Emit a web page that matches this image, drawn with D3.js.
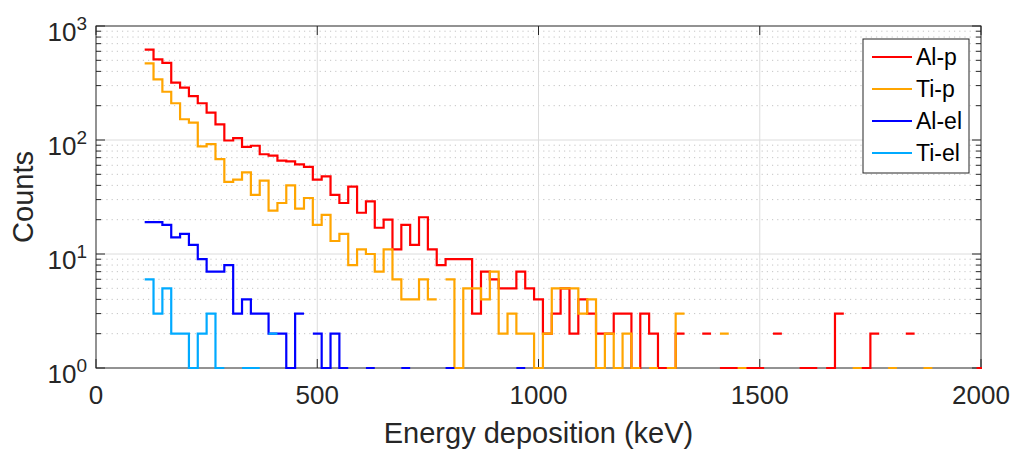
<!DOCTYPE html>
<html>
<head>
<meta charset="utf-8">
<script src="https://cdn.jsdelivr.net/npm/d3@7"></script>
<style>
  html, body { margin: 0; padding: 0; background: #ffffff; }
  svg { display: block; font-family: "Liberation Sans", Arial, Helvetica, sans-serif; }
</style>
</head>
<body>
<svg id="chart" width="1018" height="450"></svg>
<script>
// Histogram bins: left edge of first bin and bin width (keV)
const binStart = 110;
const binWidth = 20;

// Counts per bin (0 = empty bin, leaves a gap on the log axis)
const alP = [620, 510, 475, 318, 288, 243, 210, 174, 137, 99,
             104, 87, 89, 75, 73, 66, 65, 61, 58, 45,
             48, 33, 28, 39, 23, 29, 17, 20, 11, 18,
             12, 21, 11, 8, 9, 9, 9, 3, 7, 6,
             5, 5, 7, 5, 4, 2, 3, 5, 2, 4,
             3, 2, 2, 3, 3, 1, 3, 2, 1, 1,
             2, 0, 0, 2, 0, 1, 1, 1, 1, 1,
             0, 2, 0, 0, 1, 1, 0, 1, 3, 0,
             0, 1, 2, 0, 0, 0, 2, 0, 0, 0,
             0, 0, 0, 0, 1];
const tiP = [470, 340, 265, 210, 152, 142, 88, 92, 68, 43,
             45, 52, 33, 44, 24, 28, 40, 25, 31, 18,
             22, 13, 15, 8, 11, 10, 7, 11, 6, 4,
             4, 6, 4, 0, 6, 1, 5, 5, 4, 7,
             2, 3, 2, 2, 1, 2, 5, 5, 5, 3,
             4, 1, 2, 1, 2, 1, 0, 1, 0, 1,
             3, 0, 0, 0, 0, 2, 0, 1, 0, 0,
             0, 0, 0, 0, 0, 0, 0, 0, 0, 0,
             1, 0, 0, 0, 1, 0, 0, 0, 1];
const alEl = [19, 19, 18, 14, 15, 12, 9, 7, 7, 8,
              3, 4, 3, 3, 2, 2, 1, 3, 0, 2,
              1, 2, 1, 0, 0, 1, 0, 0, 0, 1,
              0, 0, 0, 0, 1, 0, 0, 0, 0, 0,
              0, 0, 1];
const tiEl = [6, 3, 5, 2, 2, 1, 2, 3, 1, 0,
              0, 1, 1, 0, 2];

const seriesNames = ["Al-p", "Ti-p", "Al-el", "Ti-el"];
const seriesColors = ["#ff0000", "#ffa500", "#0000ff", "#00aaff"];
const seriesData = [alP, tiP, alEl, tiEl];

const xTicks = [0, 500, 1000, 1500, 2000];
const yTickExponents = [0, 1, 2, 3];
const xLabel = "Energy deposition (keV)";
const yLabel = "Counts";

// Layout
const W = 1018, H = 450;
const margin = { left: 96, right: 37, top: 26, bottom: 82 };
const plotW = W - margin.left - margin.right;
const plotH = H - margin.top - margin.bottom;
const axisColor = "#262626";
const tickFont = 26;
const labelFont = 29;
const legendFont = 23;

const svg = d3.select("#chart");

const x = d3.scaleLinear().domain([0, 2000]).range([margin.left, margin.left + plotW]);
const y = d3.scaleLog().domain([1, 1000]).range([margin.top + plotH, margin.top]);

const x0 = margin.left, x1 = margin.left + plotW;
const y0 = margin.top + plotH, y1 = margin.top;

// Minor horizontal grid (dotted)
const minorVals = [];
yTickExponents.slice(0, -1).forEach(e => {
  for (let m = 2; m <= 9; m++) minorVals.push(m * Math.pow(10, e));
});
svg.append("g").selectAll("line").data(minorVals).join("line")
  .attr("x1", x0).attr("x2", x1)
  .attr("y1", d => y(d)).attr("y2", d => y(d))
  .attr("stroke", "#c4c4c4").attr("stroke-width", 1)
  .attr("stroke-dasharray", "1.2,4");

// Major grid
const majorY = yTickExponents.map(e => Math.pow(10, e)).filter(v => v > 1 && v < 1000);
svg.append("g").selectAll("line").data(majorY).join("line")
  .attr("x1", x0).attr("x2", x1)
  .attr("y1", d => y(d)).attr("y2", d => y(d))
  .attr("stroke", "#dcdcdc").attr("stroke-width", 1);
svg.append("g").selectAll("line").data(xTicks.filter(v => v > 0 && v < 2000)).join("line")
  .attr("y1", y0).attr("y2", y1)
  .attr("x1", d => x(d)).attr("x2", d => x(d))
  .attr("stroke", "#dcdcdc").attr("stroke-width", 1);

// Axes box and ticks
const axesG = svg.append("g").attr("stroke", axisColor).attr("fill", "none");
axesG.append("rect").attr("x", x0).attr("y", y1).attr("width", plotW).attr("height", plotH)
  .attr("stroke-width", 1);
const majorLen = 9, minorLen = 5;
xTicks.forEach(v => {
  axesG.append("line").attr("x1", x(v)).attr("x2", x(v)).attr("y1", y0).attr("y2", y0 - majorLen);
  axesG.append("line").attr("x1", x(v)).attr("x2", x(v)).attr("y1", y1).attr("y2", y1 + majorLen);
});
yTickExponents.forEach(e => {
  const yy = y(Math.pow(10, e));
  axesG.append("line").attr("x1", x0).attr("x2", x0 + majorLen).attr("y1", yy).attr("y2", yy);
  axesG.append("line").attr("x1", x1).attr("x2", x1 - majorLen).attr("y1", yy).attr("y2", yy);
});
minorVals.forEach(v => {
  const yy = y(v);
  axesG.append("line").attr("x1", x0).attr("x2", x0 + minorLen).attr("y1", yy).attr("y2", yy);
  axesG.append("line").attr("x1", x1).attr("x2", x1 - minorLen).attr("y1", yy).attr("y2", yy);
});

// Tick labels
svg.append("g").selectAll("text").data(xTicks).join("text")
  .attr("x", d => x(d)).attr("y", y0 + 36)
  .attr("text-anchor", "middle").attr("font-size", tickFont).attr("fill", axisColor)
  .text(d => d);

const yl = svg.append("g").selectAll("text").data(yTickExponents).join("text")
  .attr("x", x0 - 9).attr("y", d => y(Math.pow(10, d)) + 15)
  .attr("text-anchor", "end").attr("font-size", tickFont).attr("fill", axisColor);
yl.append("tspan").text("10");
yl.append("tspan").attr("dy", -11).attr("font-size", 19).text(d => d);

// Axis labels
svg.append("text").attr("x", (x0 + x1) / 2).attr("y", 443)
  .attr("text-anchor", "middle").attr("font-size", labelFont).attr("fill", axisColor)
  .text(xLabel);
svg.append("text").attr("transform", `translate(33,${(y0 + y1) / 2}) rotate(-90)`)
  .attr("text-anchor", "middle").attr("font-size", labelFont).attr("fill", axisColor)
  .text(yLabel);

// Histogram stairs
svg.append("defs").append("clipPath").attr("id", "plotClip")
  .append("rect").attr("x", x0).attr("y", y1 - 2).attr("width", plotW + 1).attr("height", plotH + 5);

function stepPoints(values) {
  const pts = [];
  values.forEach((v, i) => {
    const e = binStart + i * binWidth;
    pts.push([e, v], [e + binWidth, v]);
  });
  return pts;
}
const stairs = d3.line()
  .defined(d => d[1] > 0)
  .x(d => x(d[0]))
  .y(d => y(d[1]));

const linesG = svg.append("g").attr("clip-path", "url(#plotClip)");
seriesData.forEach((vals, k) => {
  linesG.append("path")
    .attr("d", stairs(stepPoints(vals)))
    .attr("fill", "none")
    .attr("stroke", seriesColors[k])
    .attr("stroke-width", 2.2)
    .attr("stroke-linejoin", "miter");
});

// Legend
const lg = svg.append("g");
const lgX = 863, lgY = 39, lgW = 106, lgH = 134;
lg.append("rect").attr("x", lgX).attr("y", lgY).attr("width", lgW).attr("height", lgH)
  .attr("fill", "#ffffff").attr("stroke", axisColor).attr("stroke-width", 1);
seriesNames.forEach((name, k) => {
  const yy = lgY + 18 + k * 32;
  lg.append("line").attr("x1", lgX + 9).attr("x2", lgX + 49)
    .attr("y1", yy).attr("y2", yy)
    .attr("stroke", seriesColors[k]).attr("stroke-width", 2.2);
  lg.append("text").attr("x", lgX + 53).attr("y", yy + 8)
    .attr("font-size", legendFont).attr("fill", "#000000")
    .text(name);
});
</script>
</body>
</html>
